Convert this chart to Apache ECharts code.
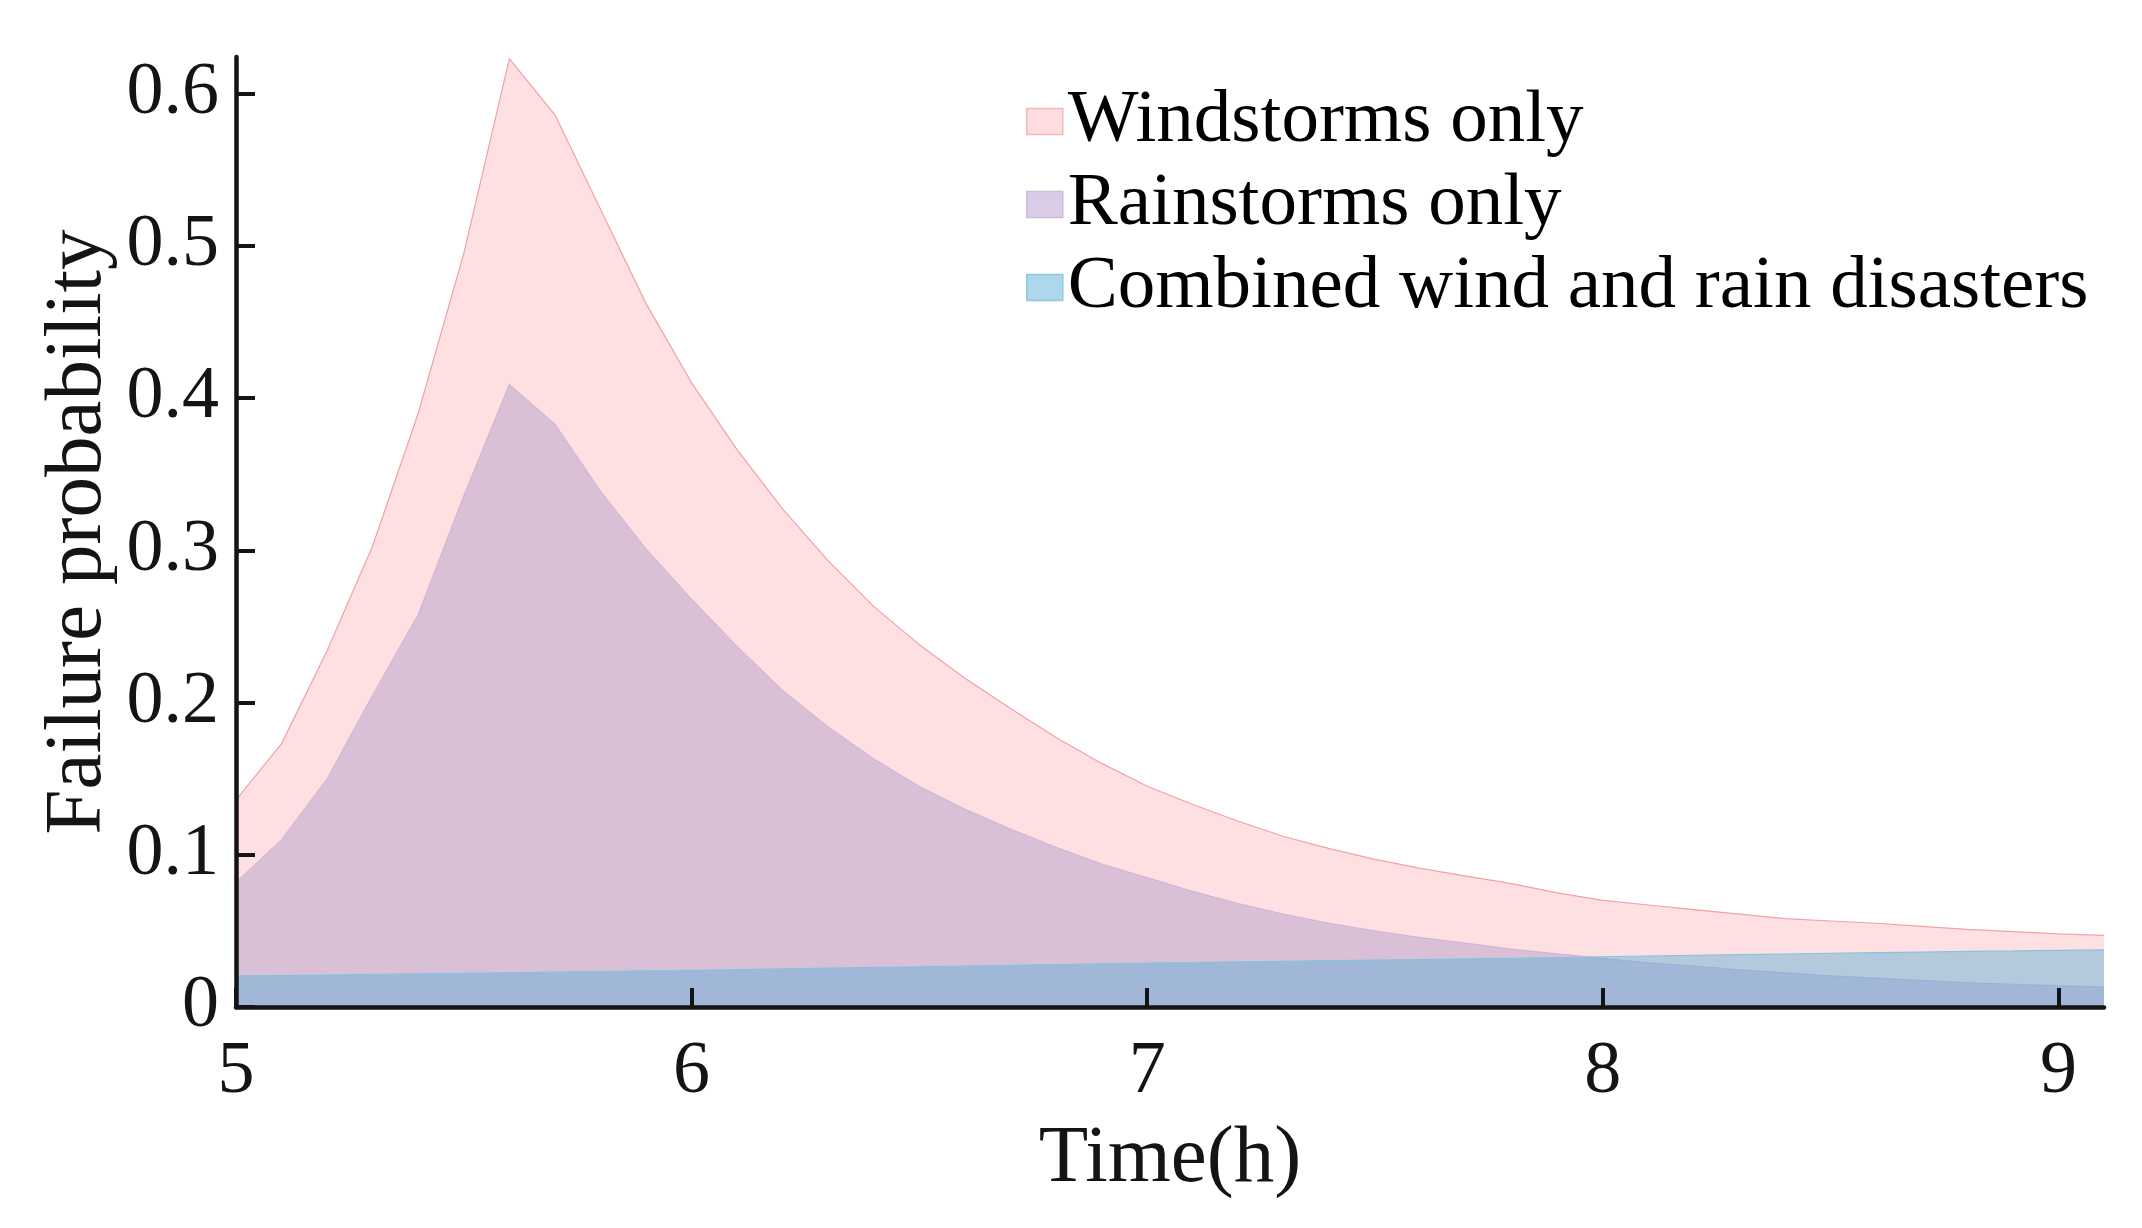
<!DOCTYPE html>
<html>
<head>
<meta charset="utf-8">
<script src="https://cdn.jsdelivr.net/npm/echarts@6/dist/echarts.min.js"></script>
<style>
  html, body { margin: 0; padding: 0; background: #fff; }
  #graph { width: 2142px; height: 1228px; }
</style>
</head>
<body>
<div id="graph"></div>
<script>
  var times = [5.0, 5.1, 5.2, 5.3, 5.4, 5.5, 5.6, 5.7, 5.8, 5.9,
    6.0, 6.1, 6.2, 6.3, 6.4, 6.5, 6.6, 6.7, 6.8, 6.9,
    7.0, 7.1, 7.2, 7.3, 7.4, 7.5, 7.6, 7.7, 7.8, 7.9,
    8.0, 8.1, 8.2, 8.3, 8.4, 8.5, 8.6, 8.7, 8.8, 8.9,
    9.0, 9.1]
  var windOnly = [0.136, 0.173, 0.234, 0.303, 0.390, 0.495, 0.623, 0.586, 0.524, 0.462,
    0.410, 0.366, 0.327, 0.293, 0.263, 0.238, 0.216, 0.196, 0.177, 0.160,
    0.145, 0.133, 0.122, 0.112, 0.104, 0.097, 0.091, 0.086, 0.081, 0.075,
    0.070, 0.067, 0.064, 0.061, 0.058, 0.0565, 0.055, 0.053, 0.051, 0.0495,
    0.048, 0.047]
  var rainOnly = [0.082, 0.110, 0.150, 0.205, 0.258, 0.336, 0.409, 0.383, 0.339, 0.301,
    0.268, 0.237, 0.208, 0.184, 0.163, 0.145, 0.130, 0.117, 0.105, 0.094,
    0.085, 0.076, 0.068, 0.061, 0.055, 0.050, 0.0456, 0.042, 0.038, 0.035,
    0.032, 0.029, 0.027, 0.0245, 0.0225, 0.0205, 0.019, 0.0175, 0.016, 0.015,
    0.014, 0.0132]
  var combined = [0.0204, 0.0207, 0.0210, 0.0214, 0.0217, 0.0221, 0.0225, 0.0229, 0.0233, 0.0237,
    0.0241, 0.0245, 0.0250, 0.0255, 0.0260, 0.0264, 0.0269, 0.0274, 0.0279, 0.0284,
    0.0288, 0.0292, 0.0296, 0.0300, 0.0304, 0.0308, 0.0312, 0.0316, 0.0320, 0.0325,
    0.0330, 0.0335, 0.0340, 0.0344, 0.0348, 0.0353, 0.0357, 0.0361, 0.0365, 0.0368,
    0.0372, 0.0375]
  var xTicks = [5, 6, 7, 8, 9]
  var yTicks = [0, 0.1, 0.2, 0.3, 0.4, 0.5, 0.6]
  var seriesNames = ['Windstorms only', 'Rainstorms only', 'Combined wind and rain disasters']

  var font = 'Liberation Serif'
  var ink = '#141414'

  function pairs (ys) {
    return times.map((t, i) => [t, ys[i]])
  }

  // axes sit above the translucent areas, like the matlab figure
  function axisCommon () {
    return {
      type: 'value',
      z: 10,
      splitLine: { show: false },
      axisLine: { show: true, onZero: false, lineStyle: { color: ink, width: 4.5 } },
      axisTick: { show: true, inside: true, length: 19, lineStyle: { color: ink, width: 4 } },
      nameLocation: 'middle',
      nameMoveOverlap: false,
      nameTextStyle: { fontFamily: font, fontSize: 81, color: ink, lineHeight: 81 }
    }
  }

  var chart = echarts.init(document.getElementById('graph'), null, { renderer: 'canvas' })

  var xAxis = axisCommon()
  Object.assign(xAxis, {
    min: 5,
    max: 9.1,
    name: 'Time(h)',
    nameGap: 112
  })
  xAxis.axisTick.customValues = xTicks
  xAxis.axisLabel = {
    customValues: xTicks,
    margin: 29,
    fontFamily: font, fontSize: 74, lineHeight: 74, color: ink
  }

  var yAxis = axisCommon()
  Object.assign(yAxis, {
    min: 0,
    max: 0.624,
    name: 'Failure probability',
    nameGap: 117
  })
  yAxis.axisTick.customValues = yTicks
  yAxis.axisLabel = {
    customValues: yTicks,
    margin: 17,
    formatter: v => (v === 0 ? '0' : v.toFixed(1)),
    fontFamily: font, fontSize: 74, lineHeight: 74, color: ink
  }

  var option = {
    animation: false,
    backgroundColor: '#fff',
    grid: {
      left: 236,
      right: 38,
      top: 57,
      bottom: 221,
      containLabel: false,
      outerBoundsMode: 'none'
    },
    legend: {
      orient: 'vertical',
      left: 1026,
      top: 84,
      padding: 0,
      itemGap: 8,
      itemWidth: 36,
      itemHeight: 26,
      icon: 'rect',
      selectedMode: false,
      textStyle: { fontFamily: font, fontSize: 75, lineHeight: 75, color: '#000' },
      data: [
        { name: seriesNames[0], itemStyle: { color: '#FFDDDF', borderColor: '#F4B8BA', borderWidth: 1.5 } },
        { name: seriesNames[1], itemStyle: { color: '#DACCE6', borderColor: '#CDBBDC', borderWidth: 1.5 } },
        { name: seriesNames[2], itemStyle: { color: '#ADD7EA', borderColor: '#92C6DE', borderWidth: 1.5 } }
      ]
    },
    xAxis: xAxis,
    yAxis: yAxis,
    series: [
      {
        name: seriesNames[0],
        type: 'line',
        data: pairs(windOnly),
        showSymbol: false,
        symbol: 'none',
        z: 1,
        lineStyle: { color: '#F0A2A4', width: 1.2 },
        itemStyle: { color: '#FFDDDF' },
        areaStyle: { color: 'rgba(255,178,183,0.4)', opacity: 1 }
      },
      {
        name: seriesNames[1],
        type: 'line',
        data: pairs(rainOnly),
        showSymbol: false,
        symbol: 'none',
        z: 2,
        lineStyle: { color: 'rgba(190,160,200,0.6)', width: 1 },
        itemStyle: { color: '#DACCE6' },
        areaStyle: { color: 'rgba(160,146,201,0.4)', opacity: 1 }
      },
      {
        name: seriesNames[2],
        type: 'line',
        data: pairs(combined),
        showSymbol: false,
        symbol: 'none',
        z: 3,
        lineStyle: { color: '#86C3DE', width: 1.2 },
        itemStyle: { color: '#ADD7EA' },
        areaStyle: { color: 'rgba(92,173,216,0.45)', opacity: 1 }
      }
    ]
  }

  chart.setOption(option)
</script>
</body>
</html>
